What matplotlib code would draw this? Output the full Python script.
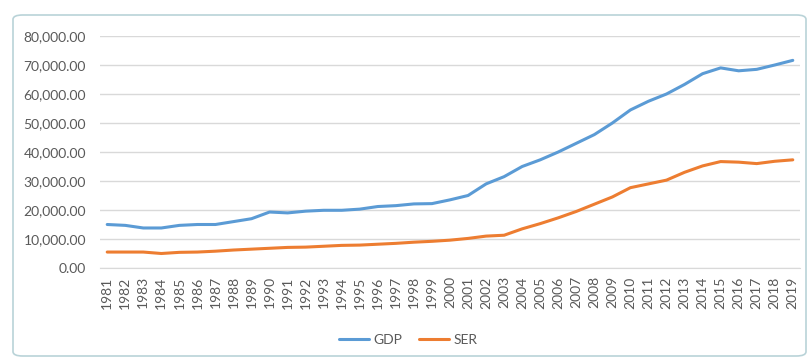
import matplotlib
matplotlib.use("Agg")
import matplotlib.pyplot as plt
from matplotlib.patches import FancyBboxPatch
from matplotlib.ticker import FuncFormatter

plt.rcParams['font.family'] = ['Lato', 'DejaVu Sans']

years = list(range(1981, 2020))
gdp = [15000, 14700, 13800, 13800, 14700, 15000, 15000, 16000, 17000, 19300,
       19000, 19600, 19900, 19900, 20300, 21200, 21500, 22100, 22200, 23500,
       25000, 29000, 31500, 35000, 37300, 40000, 43000, 46000, 50000, 54500,
       57500, 60000, 63300, 67000, 69000, 68000, 68500, 70000, 71600]
ser = [5500, 5500, 5500, 5000, 5400, 5500, 5800, 6200, 6500, 6800,
       7100, 7200, 7500, 7800, 7900, 8200, 8500, 8900, 9200, 9600,
       10200, 11000, 11300, 13500, 15300, 17300, 19500, 22000, 24500, 27700,
       29000, 30300, 33000, 35200, 36700, 36500, 36000, 36800, 37300]

fig = plt.figure(figsize=(8.1, 3.6), dpi=100)

# chart frame
frame = FancyBboxPatch((13 / 810, 4 / 360), 793 / 810, 341 / 360,
                       boxstyle="round,pad=0,rounding_size=0.012",
                       transform=fig.transFigure, facecolor='none',
                       edgecolor='#b9d3d8', linewidth=1.2, zorder=-1)
fig.patches.append(frame)

ax = fig.add_axes([100 / 810, 1 - 268 / 360, 700 / 810, 232 / 360])
ax.plot(years, gdp, color='#5B9BD5', lw=2.2, label='GDP', solid_capstyle='round')
ax.plot(years, ser, color='#ED7D31', lw=2.2, label='SER', solid_capstyle='round')

ax.set_xlim(1980.6, 2019.4)
ax.set_ylim(0, 80000)
ax.set_yticks(range(0, 80001, 10000))
ax.yaxis.set_major_formatter(FuncFormatter(lambda v, p: f"{v:,.2f}"))
ax.set_xticks(years)
ax.set_xticklabels([str(y) for y in years], rotation=90)
ax.grid(axis='y', color='#d9d9d9', lw=1)
ax.set_axisbelow(True)
for s in ['top', 'right', 'left']:
    ax.spines[s].set_visible(False)
ax.spines['bottom'].set_color('#d9d9d9')
ax.tick_params(axis='both', length=0, colors='#595959', labelsize=10)
ax.tick_params(axis='y', pad=10)
ax.tick_params(axis='x', pad=6)
ax.patch.set_alpha(0)

ax.legend(loc='center', bbox_to_anchor=(0.44, -0.31), ncol=2, frameon=False,
          handlelength=2.2, columnspacing=1.2, handletextpad=0.3,
          fontsize=10, labelcolor='#595959')

fig.savefig('out.png', dpi=100)
